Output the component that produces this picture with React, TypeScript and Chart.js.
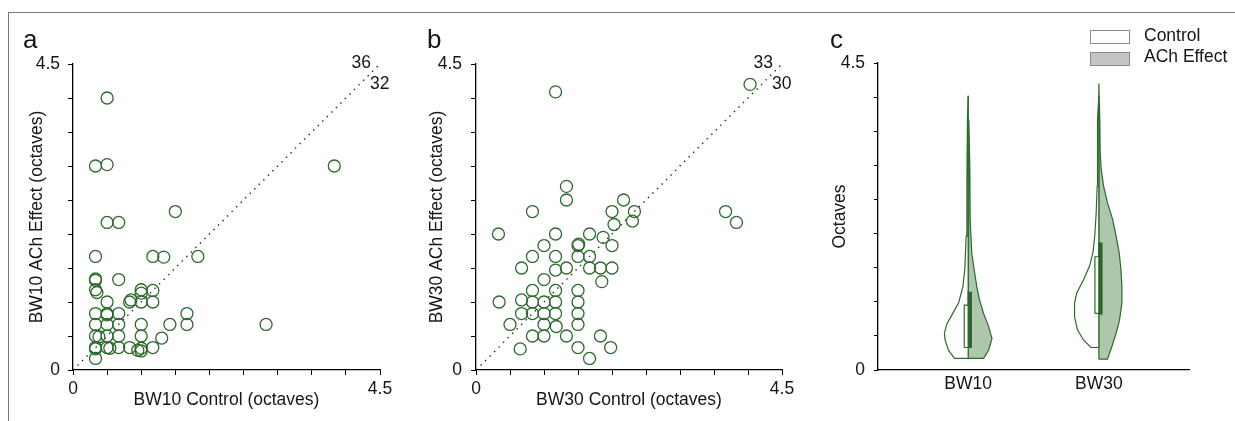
import { useEffect, useRef } from "react";
import { Chart, registerables } from "chart.js";

Chart.register(...registerables);

// ---------------- data ----------------
const AXIS_MIN = 0;
const AXIS_MAX = 4.5;
const AXIS_STEP = 0.5;
const LABELED_TICKS = [0, 4.5];

// Panel a: BW10 (control vs ACh effect), octaves
const A_CONTROL = [
  0.5, 0.33, 0.5, 3.83, 1.5, 0.5, 0.67, 0.33, 1.17, 1.33,
  1.83, 0.33, 0.33, 0.67, 0.33, 0.35, 1.0, 1.0, 1.17, 0.5,
  0.83, 0.85, 1.0, 1.17, 0.33, 0.5, 0.5, 0.67, 1.67, 0.33,
  0.5, 0.67, 1.0, 1.42, 1.67, 2.83, 0.33, 0.38, 0.5, 0.67,
  1.0, 1.3, 0.33, 0.33, 0.5, 0.54, 0.67, 0.83, 0.95, 1.0,
  1.0, 1.17, 0.33,
];
const A_ACH = [
  4.0, 3.0, 3.02, 3.0, 2.33, 2.17, 2.17, 1.67, 1.67, 1.66,
  1.67, 1.34, 1.32, 1.33, 1.18, 1.14, 1.18, 1.13, 1.17, 1.0,
  1.0, 1.03, 1.0, 1.0, 0.83, 0.83, 0.81, 0.83, 0.83, 0.67,
  0.67, 0.67, 0.67, 0.67, 0.67, 0.67, 0.5, 0.49, 0.5, 0.5,
  0.5, 0.47, 0.33, 0.31, 0.33, 0.32, 0.33, 0.33, 0.29, 0.32,
  0.28, 0.33, 0.17,
];
const A_COUNTS = ["36", "32"];

// Panel b: BW30 (control vs ACh effect), octaves
const B_CONTROL = [
  1.17, 4.03, 1.33, 1.33, 2.17, 0.83, 2.0, 2.33, 2.3, 2.03,
  3.67, 3.83, 0.33, 1.17, 1.67, 1.87, 1.0, 1.5, 1.51, 2.0,
  0.83, 1.17, 1.5, 1.67, 0.67, 1.17, 1.33, 1.67, 1.83, 2.0,
  1.0, 1.85, 0.83, 1.17, 1.5, 0.34, 0.67, 0.83, 1.0, 1.17,
  1.5, 0.67, 0.83, 1.0, 1.17, 1.5, 0.5, 1.0, 1.18, 1.5,
  0.83, 1.0, 1.33, 1.83, 0.65, 1.5, 1.98, 1.67,
];
const B_ACH = [
  4.09, 4.2, 2.7, 2.5, 2.5, 2.33, 2.33, 2.33, 2.19, 2.14,
  2.33, 2.17, 2.0, 2.0, 2.0, 1.95, 1.83, 1.83, 1.85, 1.83,
  1.67, 1.67, 1.67, 1.67, 1.5, 1.47, 1.5, 1.5, 1.5, 1.5,
  1.33, 1.3, 1.17, 1.17, 1.17, 1.0, 1.03, 1.0, 1.0, 1.0,
  1.0, 0.83, 0.83, 0.83, 0.83, 0.83, 0.67, 0.67, 0.64, 0.67,
  0.5, 0.5, 0.5, 0.5, 0.31, 0.33, 0.33, 0.17,
];
const B_COUNTS = ["33", "30"];

// Panel c: violins
const CATEGORIES = ["BW10", "BW30"];
const CATEGORY_POS = [1, 2];

const VIOLIN_Y_CONTROL = [
  [0.17, 0.29, 0.44, 0.54, 0.68, 0.83, 0.98, 1.22, 1.47, 1.96, 2.69, 3.67, 4.02],
  [0.33, 0.44, 0.59, 0.78, 0.98, 1.13, 1.32, 1.52, 1.71, 1.96, 2.3, 2.69, 3.18, 3.67, 4.02],
];
const VIOLIN_D_CONTROL = [
  [0.57, 0.82, 0.96, 0.99, 0.88, 0.64, 0.4, 0.22, 0.14, 0.083, 0.054, 0.03, 0],
  [0.33, 0.64, 0.89, 1.01, 1.01, 0.92, 0.64, 0.39, 0.25, 0.17, 0.11, 0.07, 0.055, 0.055, 0],
];
const VIOLIN_Y_ACH = [
  [0.17, 0.29, 0.46, 0.64, 0.83, 1.03, 1.22, 1.47, 1.71, 2.2, 2.94, 3.67, 3.87, 4.02],
  [0.16, 0.34, 0.54, 0.73, 0.98, 1.22, 1.47, 1.71, 1.96, 2.2, 2.45, 2.69, 2.94, 3.18, 3.67, 4.2],
];
const VIOLIN_D_ACH = [
  [0.64, 0.85, 0.99, 0.85, 0.64, 0.47, 0.36, 0.25, 0.15, 0.083, 0.07, 0.03, 0.012, 0],
  [0.36, 0.54, 0.72, 0.86, 0.96, 0.96, 0.92, 0.85, 0.72, 0.58, 0.36, 0.2, 0.1, 0.055, 0.04, 0],
];
const BOX_Q1_CONTROL = [0.33, 0.83];
const BOX_Q3_CONTROL = [0.95, 1.66];
const BOX_Q1_ACH = [0.33, 0.82];
const BOX_Q3_ACH = [1.14, 1.86];

// ---------------- styles ----------------
const FONT = '"Liberation Sans", Arial, Helvetica, sans-serif';
const TEXT = "#161616";
const GREEN = "#2d6a2d";
const DARK_GREEN = "#2a652a";
const ACH_FILL = "#aec6ac";
const FS = 17.5;
const VIOLIN_HALF_WIDTH = 0.184; // x-units at density 1
const BOX_W_CONTROL = 0.03;
const BOX_W_ACH = 0.024;

const tickLabel = (v: number) => {
  const hit = LABELED_TICKS.find((t) => Math.abs(t - v) < 1e-9);
  return hit === undefined ? "" : String(hit);
};

const countLabels = (counts: string[]) => ({
  id: "countLabels",
  afterDraw(chart: any) {
    const { ctx, chartArea } = chart;
    ctx.save();
    ctx.font = `${FS}px ${FONT}`;
    ctx.fillStyle = TEXT;
    ctx.textBaseline = "alphabetic";
    ctx.textAlign = "right";
    ctx.fillText(counts[0], chartArea.right - 9, chartArea.top + 4);
    ctx.textAlign = "left";
    ctx.fillText(counts[1], chartArea.right - 10, chartArea.top + 25);
    ctx.restore();
  },
});

function yAxis(width: number, title: string, titlePad: number, tickLen: number, tickPad: number) {
  return {
    type: "linear",
    min: AXIS_MIN,
    max: AXIS_MAX,
    afterFit: (s: any) => {
      s.width = width;
    },
    ticks: {
      stepSize: AXIS_STEP,
      autoSkip: false,
      padding: tickPad,
      color: TEXT,
      font: { family: FONT, size: FS },
      callback: (v: any) => tickLabel(Number(v)),
    },
    grid: {
      drawOnChartArea: false,
      drawTicks: true,
      tickLength: tickLen,
      color: "#000",
      tickColor: "#000",
      tickWidth: 1,
    },
    border: { display: true, color: "#000", width: 1.3 },
    title: {
      display: true,
      text: title,
      color: TEXT,
      font: { family: FONT, size: FS },
      padding: { top: titlePad, bottom: 0 },
    },
  };
}

function scatterConfig(
  xs: number[],
  ys: number[],
  xTitle: string,
  yTitle: string,
  counts: string[],
  yWidth: number,
  padRight: number,
  tickPad: number
) {
  return {
    type: "scatter",
    data: {
      datasets: [
        {
          data: xs.map((x, i) => ({ x, y: ys[i] })),
          pointRadius: 6,
          pointHoverRadius: 6,
          borderWidth: 1.3,
          borderColor: GREEN,
          backgroundColor: "rgba(0,0,0,0)",
          clip: false,
        },
        {
          data: [
            { x: AXIS_MIN, y: AXIS_MIN },
            { x: AXIS_MAX, y: AXIS_MAX },
          ],
          showLine: true,
          pointRadius: 0,
          borderColor: "#222",
          borderWidth: 1.4,
          borderDash: [1.4, 5],
          fill: false,
          clip: false,
        },
      ],
    },
    options: {
      responsive: false,
      animation: false,
      devicePixelRatio: 1,
      events: [],
      layout: { padding: { left: 0, top: 64, right: padRight, bottom: 0 } },
      plugins: { legend: { display: false }, tooltip: { enabled: false } },
      scales: {
        x: {
          type: "linear",
          min: AXIS_MIN,
          max: AXIS_MAX,
          afterFit: (s: any) => {
            s.height = 51;
          },
          ticks: {
            stepSize: AXIS_STEP,
            autoSkip: false,
            maxRotation: 0,
            padding: 4,
            color: TEXT,
            font: { family: FONT, size: FS },
            callback: (v: any) => tickLabel(Number(v)),
          },
          grid: {
            drawOnChartArea: false,
            drawTicks: true,
            tickLength: 5,
            color: "#000",
            tickColor: "#000",
            tickWidth: 1,
          },
          border: { display: true, color: "#000", width: 1.3 },
          title: {
            display: true,
            text: xTitle,
            color: TEXT,
            font: { family: FONT, size: FS },
            padding: { top: 0, bottom: 10.5 },
          },
        },
        y: yAxis(yWidth, yTitle, 26.5, 5, tickPad),
      },
    },
    plugins: [countLabels(counts)],
  };
}

function halfViolin(c: number, ys: number[], ds: number[], side: number) {
  const pts = [{ x: c, y: ys[0] }];
  ys.forEach((y, i) => pts.push({ x: c + side * ds[i] * VIOLIN_HALF_WIDTH, y }));
  pts.push({ x: c, y: ys[ys.length - 1] });
  pts.push({ x: c, y: ys[0] });
  return pts;
}

function rect(x0: number, x1: number, y0: number, y1: number) {
  return [
    { x: x0, y: y0 },
    { x: x1, y: y0 },
    { x: x1, y: y1 },
    { x: x0, y: y1 },
    { x: x0, y: y0 },
  ];
}

function violinConfig() {
  const base = { pointRadius: 0, tension: 0, fill: "shape", borderWidth: 1.2, borderColor: GREEN };
  const datasets: any[] = [];
  CATEGORY_POS.forEach((c, i) => {
    datasets.push({
      ...base,
      order: 0,
      data: rect(c - BOX_W_CONTROL, c, BOX_Q1_CONTROL[i], BOX_Q3_CONTROL[i]),
      backgroundColor: "#ffffff",
    });
    datasets.push({
      ...base,
      order: 0,
      data: rect(c, c + BOX_W_ACH, BOX_Q1_ACH[i], BOX_Q3_ACH[i]),
      backgroundColor: DARK_GREEN,
      borderColor: DARK_GREEN,
    });
    datasets.push({
      ...base,
      order: 1,
      data: halfViolin(c, VIOLIN_Y_CONTROL[i], VIOLIN_D_CONTROL[i], -1),
      backgroundColor: "#ffffff",
    });
    datasets.push({
      ...base,
      order: 1,
      data: halfViolin(c, VIOLIN_Y_ACH[i], VIOLIN_D_ACH[i], 1),
      backgroundColor: ACH_FILL,
    });
  });
  return {
    type: "line",
    data: { datasets },
    options: {
      responsive: false,
      animation: false,
      devicePixelRatio: 1,
      events: [],
      layout: { padding: { left: 0, top: 63, right: 46, bottom: 0 } },
      plugins: { legend: { display: false }, tooltip: { enabled: false } },
      scales: {
        x: {
          type: "linear",
          min: 0.31,
          max: 2.69,
          afterFit: (s: any) => {
            s.height = 51;
          },
          afterBuildTicks: (s: any) => {
            s.ticks = CATEGORY_POS.map((v) => ({ value: v }));
          },
          ticks: {
            autoSkip: false,
            maxRotation: 0,
            padding: 4,
            color: TEXT,
            font: { family: FONT, size: FS },
            callback: (_v: any, i: number) => CATEGORIES[i],
          },
          grid: { drawOnChartArea: false, drawTicks: false, color: "#000" },
          border: { display: true, color: "#000", width: 1.3 },
        },
        y: yAxis(58, "Octaves", 9.5, 4, 9),
      },
    },
  };
}

function ChartCanvas({ make, left, width }: { make: () => any; left: number; width: number }) {
  const ref = useRef<HTMLCanvasElement>(null);
  useEffect(() => {
    const chart = new Chart(ref.current as HTMLCanvasElement, make());
    return () => chart.destroy();
  }, []);
  return (
    <canvas
      ref={ref}
      width={width}
      height={421}
      style={{ position: "absolute", left, top: 0, width, height: 421 }}
    />
  );
}

const letterStyle = (left: number): any => ({
  position: "absolute",
  left,
  top: 26,
  fontFamily: FONT,
  fontSize: 26,
  lineHeight: "26px",
  color: TEXT,
});

const legendText = (top: number): any => ({
  position: "absolute",
  left: 1144,
  top,
  fontFamily: FONT,
  fontSize: FS,
  lineHeight: `${FS}px`,
  color: TEXT,
  whiteSpace: "nowrap",
});

export default function App() {
  return (
    <div
      style={{
        position: "absolute",
        left: 0,
        top: 0,
        width: 1235,
        height: 421,
        overflow: "hidden",
        background: "#fff",
      }}
    >
      <div
        style={{
          position: "absolute",
          left: 8,
          top: 12,
          width: 1300,
          height: 500,
          borderTop: "1.5px solid #777",
          borderLeft: "1.5px solid #777",
        }}
      />
      <ChartCanvas
        left={0}
        width={420}
        make={() =>
          scatterConfig(A_CONTROL, A_ACH, "BW10 Control (octaves)", "BW10 ACh Effect (octaves)", A_COUNTS, 73, 40, 8)
        }
      />
      <ChartCanvas
        left={400}
        width={420}
        make={() =>
          scatterConfig(B_CONTROL, B_ACH, "BW30 Control (octaves)", "BW30 ACh Effect (octaves)", B_COUNTS, 76, 38, 9)
        }
      />
      <ChartCanvas left={820} width={415} make={violinConfig} />
      <div style={letterStyle(23)}>a</div>
      <div style={letterStyle(427)}>b</div>
      <div style={letterStyle(830)}>c</div>
      <div
        style={{
          position: "absolute",
          left: 1090,
          top: 30,
          width: 38,
          height: 12,
          border: "1px solid #8a8a8a",
          background: "#fff",
        }}
      />
      <div
        style={{
          position: "absolute",
          left: 1090,
          top: 52,
          width: 38,
          height: 12,
          border: "1px solid #8a8a8a",
          background: "#c4c4c4",
        }}
      />
      <div style={legendText(27)}>Control</div>
      <div style={legendText(47.5)}>ACh Effect</div>
    </div>
  );
}
